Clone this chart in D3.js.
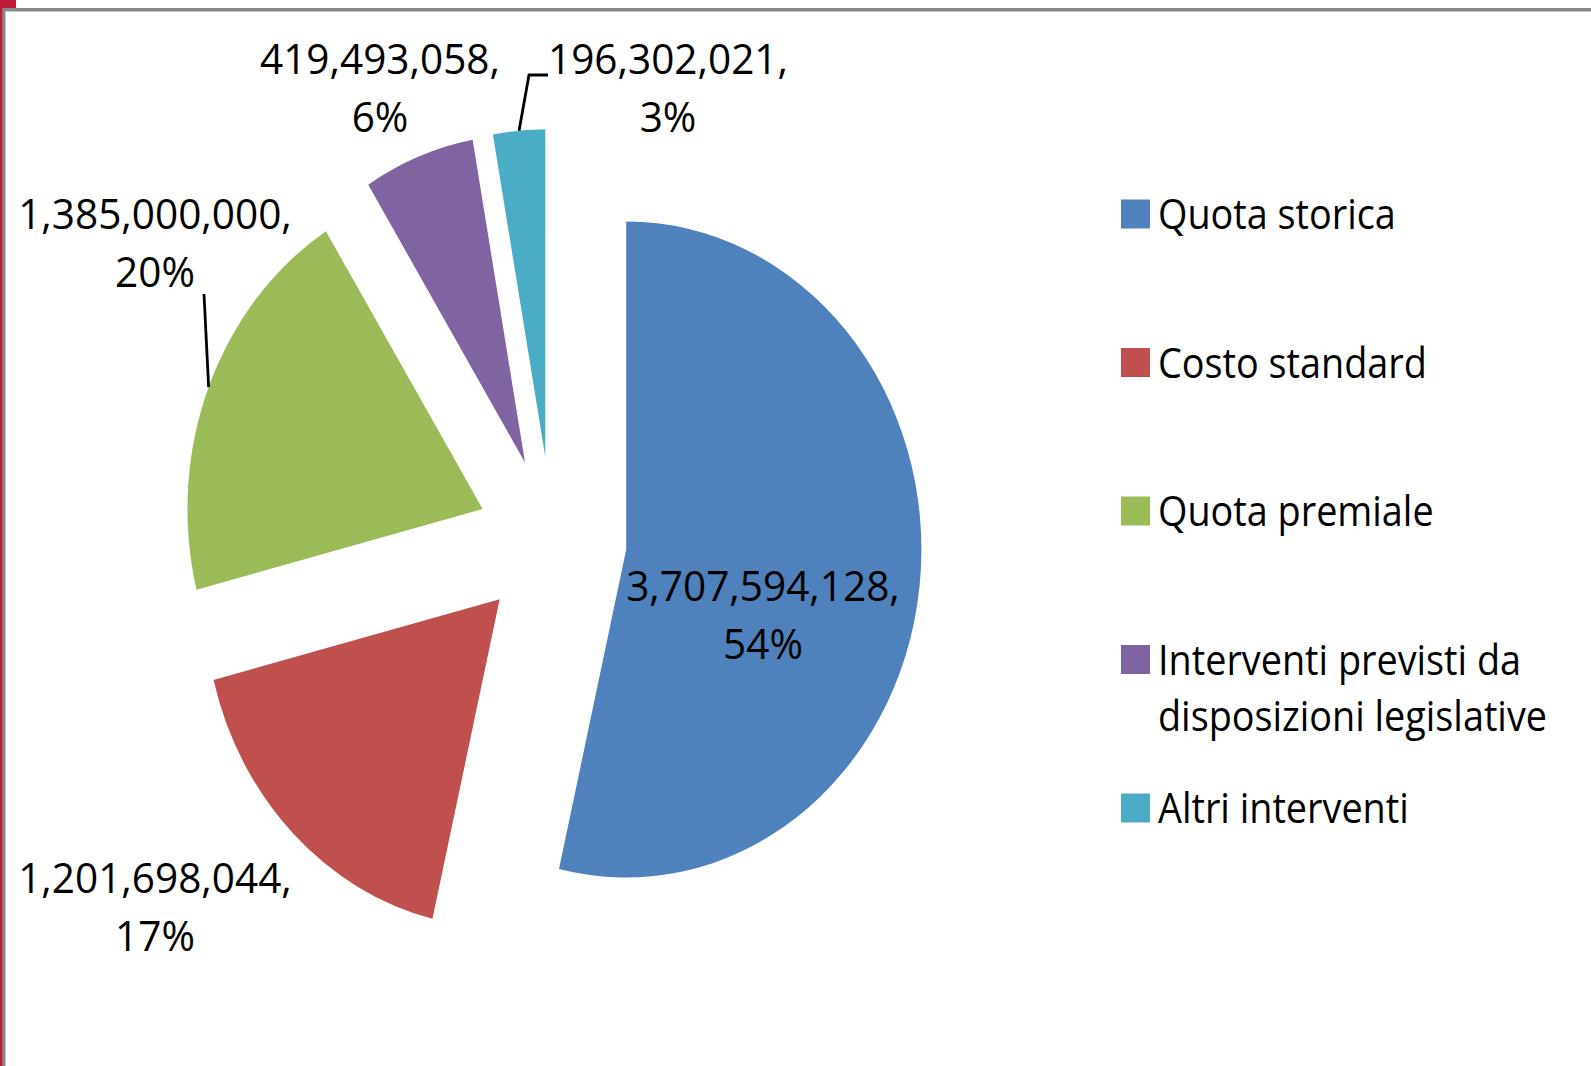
<!DOCTYPE html>
<html>
<head>
<meta charset="utf-8">
<script src="https://cdn.jsdelivr.net/npm/d3@7"></script>
<style>
	body { margin: 0; background: #fff; }
	svg text { font-family: "Open Sans", "Noto Sans", sans-serif; fill: #000; }
</style>
</head>
<body>
<svg id="chart" width="1591" height="1066"></svg>
<script>
const categories = ['Quota storica', 'Costo standard', 'Quota premiale', 'Interventi previsti da disposizioni legislative', 'Altri interventi'];
const legendLines = [['Quota storica'], ['Costo standard'], ['Quota premiale'], ['Interventi previsti da', 'disposizioni legislative'], ['Altri interventi']];
const values = [3707594128, 1201698044, 1385000000, 419493058, 196302021];
const colors = ['#4F81BD', '#C0504D', '#9BBB59', '#8064A2', '#4BACC6'];

const gConfig = { /* layout */
	center: [552, 540],
	r: 328,
	squeeze: 0.9, // picture is narrower than tall
	explode: 83,
	fontSize: 42,
	labelScale: 0.965,
	legendScale: 0.9,
	lineGap: 58
};
// first-line baseline of each data label (best fit, as placed in the original)
const labelPos = [[763, 601], [155, 893], [155, 229], [380, 74], [668, 74]];
// leader line start points, slices without one have none
const leaderFrom = [null, null, [[204, 294]], null, [[548, 75], [529, 75]]];

const svg = d3.select('#chart');
const total = d3.sum(values);
const fmtNum = d3.format(',');
const fmtPct = d3.format('.0%');

// frame
svg.append('rect').attr('x', 0).attr('y', 0).attr('width', 1591).attr('height', 1066).attr('fill', '#fff');
svg.append('rect').attr('x', 2).attr('y', 8).attr('width', 1589).attr('height', 3).attr('fill', '#888');
svg.append('rect').attr('x', 2).attr('y', 11).attr('width', 1589).attr('height', 1).attr('fill', '#c4c4c4');
svg.append('rect').attr('x', 2).attr('y', 8).attr('width', 3).attr('height', 1058).attr('fill', '#888');
svg.append('rect').attr('x', 5).attr('y', 11).attr('width', 1).attr('height', 1055).attr('fill', '#c4c4c4');
svg.append('rect').attr('x', 0).attr('y', 0).attr('width', 2.3).attr('height', 1066).attr('fill', '#be1a3c');
svg.append('rect').attr('x', 0).attr('y', 0).attr('width', 16).attr('height', 8).attr('fill', '#be1a3c');

// pie
const arcs = d3.pie().sort(null).value(d => d)(values);
const arc = d3.arc().innerRadius(0).outerRadius(gConfig.r);
const mid = d => (d.startAngle + d.endAngle) / 2;

svg.append('g')
	.attr('transform', `translate(${gConfig.center}) scale(${gConfig.squeeze},1)`)
	.selectAll('path')
	.data(arcs)
	.join('path')
		.attr('transform', d => `translate(${gConfig.explode * Math.sin(mid(d))},${-gConfig.explode * Math.cos(mid(d))})`)
		.attr('d', arc)
		.attr('fill', (d, i) => colors[i]);

// point on the outer edge of an exploded slice, in page coords
function edgePoint (d) {
	const m = mid(d);
	const dist = gConfig.explode + gConfig.r;
	return [gConfig.center[0] + gConfig.squeeze * dist * Math.sin(m), gConfig.center[1] - dist * Math.cos(m)];
}

// leader lines
const leaders = svg.append('g');
arcs.forEach((d, i) => {
	if (!leaderFrom[i]) return;
	leaders.append('path')
		.attr('d', d3.line()(leaderFrom[i].concat([edgePoint(d)])))
		.attr('fill', 'none')
		.attr('stroke', '#000')
		.attr('stroke-width', 2.8);
});

function addText (sel, x, y, str, anchor, sx) {
	sel.append('text')
		.attr('transform', `translate(${x},${y}) scale(${sx},1)`)
		.attr('text-anchor', anchor)
		.style('font-size', gConfig.fontSize + 'px')
		.text(str);
}

// data labels
const labels = svg.append('g');
values.forEach((v, i) => {
	const [x, y] = labelPos[i];
	addText(labels, x, y, fmtNum(v) + ',', 'middle', gConfig.labelScale);
	addText(labels, x, y + gConfig.lineGap, fmtPct(v / total), 'middle', gConfig.labelScale);
});

// legend
const legendY = d3.scalePoint().domain(categories).range([214, 808]);
const legend = svg.append('g');
categories.forEach((c, i) => {
	const y = legendY(c);
	legend.append('rect')
		.attr('x', 1121).attr('y', y - 14.5)
		.attr('width', 29).attr('height', 29)
		.attr('fill', colors[i]);
	legendLines[i].forEach((line, j) => addText(legend, 1158, y + 15 + j * 56, line, 'start', gConfig.legendScale));
});
</script>
</body>
</html>
